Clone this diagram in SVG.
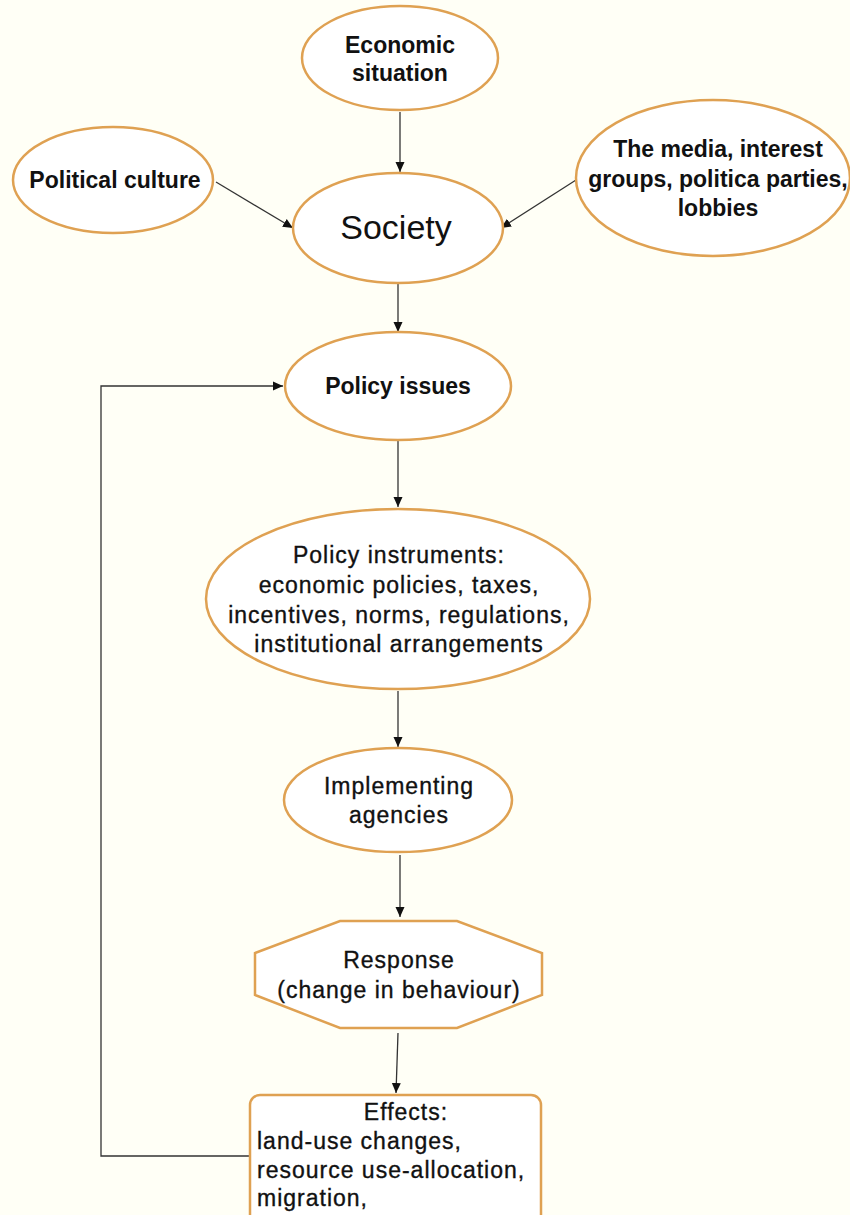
<svg xmlns="http://www.w3.org/2000/svg" width="850" height="1215" viewBox="0 0 850 1215">
<defs>
<style>
.n{fill:#ffffff;stroke:#dfa152;stroke-width:2.5}
.t{font-family:"Liberation Sans",Arial,sans-serif;font-size:23px;fill:#111;text-anchor:middle;letter-spacing:1px;stroke:#111;stroke-width:0.35}
.b{font-weight:bold;letter-spacing:0;stroke:none}
.c{fill:none;stroke:#333;stroke-width:1.3}
</style>
<marker id="ah" viewBox="0 0 10 10" refX="10" refY="5" markerWidth="10" markerHeight="10" markerUnits="userSpaceOnUse" orient="auto">
<path d="M0,0.5 L10,5 L0,9.5 Z" fill="#111"/>
</marker>
</defs>
<rect width="850" height="1215" fill="#fffff6"/>
<g id="connectors">
<line class="c" x1="400" y1="112" x2="400" y2="172" marker-end="url(#ah)"/>
<line class="c" x1="216" y1="182" x2="293" y2="228" marker-end="url(#ah)"/>
<line class="c" x1="576" y1="180" x2="501" y2="228" marker-end="url(#ah)"/>
<line class="c" x1="398" y1="284" x2="398" y2="332" marker-end="url(#ah)"/>
<line class="c" x1="398" y1="441" x2="398" y2="507" marker-end="url(#ah)"/>
<line class="c" x1="398" y1="691" x2="398" y2="747" marker-end="url(#ah)"/>
<line class="c" x1="400" y1="855" x2="400" y2="917" marker-end="url(#ah)"/>
<line class="c" x1="398" y1="1033" x2="396" y2="1093" marker-end="url(#ah)"/>
<polyline class="c" points="250,1156 101,1156 101,386 283,386" marker-end="url(#ah)"/>
</g>
<g id="economic">
<ellipse class="n" cx="400" cy="58" rx="98" ry="52"/>
<text class="t b" x="400" y="53">Economic</text>
<text class="t b" x="400" y="81">situation</text>
</g>
<g id="political">
<ellipse class="n" cx="113" cy="180" rx="100" ry="53"/>
<text class="t b" x="115" y="188">Political culture</text>
</g>
<g id="society">
<ellipse class="n" cx="398" cy="228" rx="105" ry="55"/>
<text class="t" x="396" y="239" style="font-size:34px;letter-spacing:0;stroke:none">Society</text>
</g>
<g id="media">
<ellipse class="n" cx="713" cy="178" rx="137" ry="78"/>
<text class="t b" x="718" y="157">The media, interest</text>
<text class="t b" x="718" y="187">groups, politica parties,</text>
<text class="t b" x="718" y="216">lobbies</text>
</g>
<g id="issues">
<ellipse class="n" cx="398" cy="386" rx="113" ry="54"/>
<text class="t b" x="398" y="394">Policy issues</text>
</g>
<g id="instruments">
<ellipse class="n" cx="398" cy="599" rx="192" ry="90"/>
<text class="t" x="399" y="563">Policy instruments:</text>
<text class="t" x="399" y="593">economic policies, taxes,</text>
<text class="t" x="399" y="623">incentives, norms, regulations,</text>
<text class="t" x="399" y="652">institutional arrangements</text>
</g>
<g id="agencies">
<ellipse class="n" cx="398" cy="800" rx="114" ry="52"/>
<text class="t" x="399" y="794">Implementing</text>
<text class="t" x="399" y="823">agencies</text>
</g>
<g id="response">
<polygon class="n" points="340,921 457,921 542,953 542,995 457,1028 340,1028 255,995 255,953"/>
<text class="t" x="399" y="968">Response</text>
<text class="t" x="399" y="998">(change in behaviour)</text>
</g>
<g id="effects">
<rect class="n" x="250" y="1095" width="291" height="135" rx="10"/>
<text class="t" x="406" y="1120">Effects:</text>
<text class="t" x="257" y="1149" style="text-anchor:start">land-use changes,</text>
<text class="t" x="257" y="1178" style="text-anchor:start">resource use-allocation,</text>
<text class="t" x="257" y="1206" style="text-anchor:start">migration,</text>
</g>
</svg>
